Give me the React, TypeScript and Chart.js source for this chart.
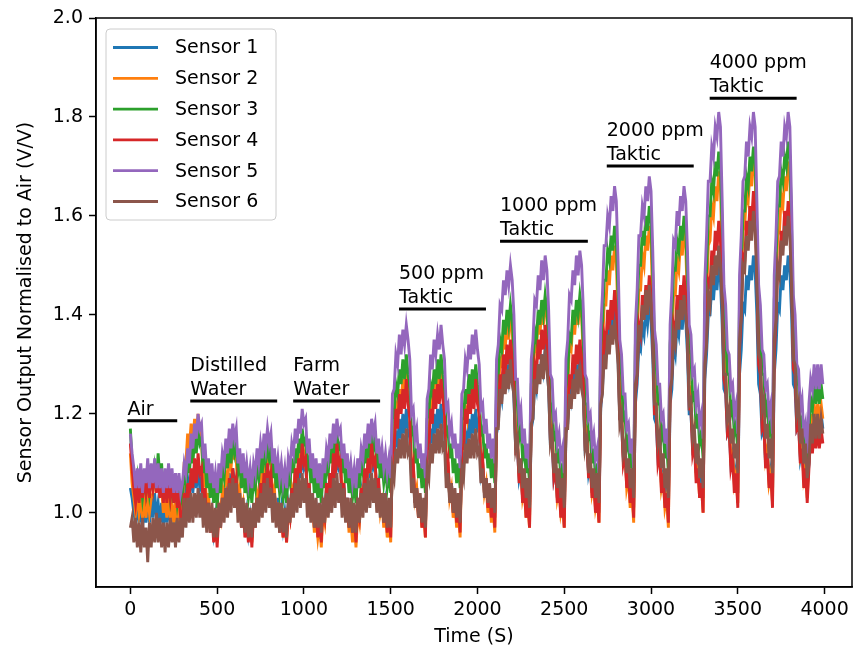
import React, { useEffect, useRef } from "react";
import { Chart, registerables } from "chart.js";

Chart.register(...registerables);

const FONT_FAMILY = "'DejaVu Sans', 'Liberation Sans', sans-serif";
const FONT_SIZE = 19;

// Sampling grid of the recording (seconds between samples)
const SAMPLE_STEP_S = 10;

const sensorLabels = ["Sensor 1", "Sensor 2", "Sensor 3", "Sensor 4", "Sensor 5", "Sensor 6"];
const sensorColors = ["#1f77b4", "#ff7f0e", "#2ca02c", "#d62728", "#9467bd", "#8c564b"];

// Normalised sensor output, one value per sample (t = 0, 10, 20 ... 3990 s)
// rows: air (0-300 s), then one 200 s exposure/recovery cycle per row, then the final recovery
const sensor1 = [
  1.05, 1.03, 1.00, 0.98, 1.02, 0.98, 1.02, 0.97, 1.01, 0.98, 1.03, 0.98, 1.03, 0.99, 1.04, 0.99, 1.02, 0.98, 1.02, 0.97, 1.02, 0.98, 1.02, 0.98, 1.01, 0.97, 1.01, 0.97, 1.00, 0.97, 1.00,
  1.05, 1.03, 1.07, 1.04, 1.08, 1.04, 1.09, 1.05, 1.09, 1.05, 1.07, 1.01, 1.03, 0.98, 1.02, 0.97, 1.00, 0.96, 0.99, 0.95,
  1.01, 0.98, 1.03, 1.01, 1.06, 1.03, 1.08, 1.04, 1.09, 1.06, 1.07, 1.01, 1.04, 0.99, 1.02, 0.97, 1.00, 0.96, 0.99, 0.95,
  1.01, 0.98, 1.03, 1.01, 1.06, 1.03, 1.08, 1.04, 1.09, 1.06, 1.08, 1.02, 1.04, 0.99, 1.03, 0.98, 1.01, 0.97, 1.00, 0.96,
  1.02, 1.00, 1.05, 1.03, 1.08, 1.05, 1.10, 1.07, 1.12, 1.09, 1.10, 1.03, 1.06, 1.00, 1.03, 0.98, 1.02, 0.97, 1.01, 0.96,
  1.02, 1.00, 1.05, 1.03, 1.08, 1.05, 1.10, 1.07, 1.12, 1.09, 1.10, 1.03, 1.06, 1.00, 1.03, 0.98, 1.02, 0.97, 1.01, 0.96,
  1.02, 1.00, 1.05, 1.03, 1.08, 1.05, 1.10, 1.07, 1.12, 1.09, 1.10, 1.04, 1.06, 1.01, 1.04, 0.99, 1.02, 0.98, 1.02, 0.97,
  1.10, 1.10, 1.16, 1.14, 1.19, 1.15, 1.20, 1.16, 1.21, 1.17, 1.15, 1.07, 1.08, 1.02, 1.05, 1.00, 1.03, 0.98, 1.02, 0.97,
  1.11, 1.11, 1.17, 1.14, 1.20, 1.16, 1.21, 1.17, 1.22, 1.18, 1.16, 1.08, 1.09, 1.03, 1.06, 1.01, 1.04, 0.99, 1.03, 0.98,
  1.11, 1.10, 1.16, 1.14, 1.19, 1.15, 1.20, 1.16, 1.21, 1.17, 1.16, 1.08, 1.10, 1.04, 1.07, 1.02, 1.05, 1.00, 1.04, 0.99,
  1.16, 1.18, 1.25, 1.23, 1.29, 1.25, 1.30, 1.27, 1.31, 1.28, 1.23, 1.13, 1.13, 1.07, 1.09, 1.03, 1.06, 1.01, 1.04, 0.99,
  1.17, 1.19, 1.27, 1.25, 1.30, 1.27, 1.32, 1.29, 1.33, 1.30, 1.25, 1.14, 1.14, 1.07, 1.09, 1.03, 1.06, 1.01, 1.04, 0.99,
  1.16, 1.18, 1.25, 1.23, 1.29, 1.25, 1.30, 1.27, 1.31, 1.28, 1.24, 1.13, 1.14, 1.08, 1.10, 1.04, 1.07, 1.02, 1.05, 1.00,
  1.21, 1.25, 1.33, 1.32, 1.37, 1.35, 1.40, 1.37, 1.41, 1.38, 1.31, 1.19, 1.18, 1.11, 1.12, 1.06, 1.09, 1.03, 1.06, 1.01,
  1.22, 1.26, 1.34, 1.33, 1.38, 1.36, 1.41, 1.38, 1.42, 1.39, 1.31, 1.19, 1.18, 1.11, 1.12, 1.06, 1.08, 1.02, 1.05, 1.00,
  1.22, 1.25, 1.34, 1.32, 1.38, 1.36, 1.41, 1.37, 1.42, 1.39, 1.32, 1.20, 1.20, 1.13, 1.14, 1.08, 1.11, 1.05, 1.08, 1.03,
  1.27, 1.32, 1.40, 1.40, 1.46, 1.43, 1.48, 1.45, 1.50, 1.47, 1.38, 1.25, 1.24, 1.16, 1.17, 1.10, 1.12, 1.07, 1.09, 1.04,
  1.28, 1.33, 1.42, 1.41, 1.48, 1.45, 1.50, 1.47, 1.52, 1.49, 1.40, 1.26, 1.24, 1.16, 1.17, 1.10, 1.13, 1.07, 1.09, 1.04,
  1.28, 1.33, 1.42, 1.41, 1.48, 1.45, 1.50, 1.47, 1.52, 1.49, 1.40, 1.26, 1.25, 1.17, 1.18, 1.11, 1.13, 1.08, 1.10, 1.05,
  1.10, 1.18, 1.15, 1.20, 1.16, 1.20, 1.16, 1.20, 1.17,
];

const sensor2 = [
  1.12, 1.06, 1.03, 1.00, 1.04, 1.00, 1.03, 0.99, 1.02, 0.99, 1.04, 1.00, 1.03, 1.04, 1.08, 1.06, 1.09, 1.04, 1.05, 1.00, 1.03, 0.99, 1.03, 0.99, 1.02, 0.98, 1.02, 0.98, 1.01, 0.98, 1.00,
  1.10, 1.10, 1.16, 1.13, 1.18, 1.14, 1.19, 1.15, 1.20, 1.16, 1.15, 1.06, 1.08, 1.01, 1.04, 0.98, 1.01, 0.96, 0.99, 0.94,
  1.01, 0.99, 1.05, 1.03, 1.08, 1.06, 1.11, 1.09, 1.14, 1.11, 1.11, 1.03, 1.05, 1.00, 1.02, 0.97, 1.00, 0.95, 0.99, 0.94,
  1.00, 0.99, 1.04, 1.02, 1.08, 1.05, 1.10, 1.08, 1.13, 1.10, 1.10, 1.03, 1.05, 0.99, 1.02, 0.97, 1.00, 0.95, 0.99, 0.94,
  1.01, 0.99, 1.05, 1.03, 1.09, 1.06, 1.12, 1.09, 1.15, 1.12, 1.11, 1.04, 1.05, 0.99, 1.02, 0.96, 0.99, 0.95, 0.98, 0.93,
  1.00, 0.98, 1.04, 1.02, 1.08, 1.05, 1.11, 1.08, 1.14, 1.11, 1.11, 1.03, 1.05, 0.99, 1.02, 0.96, 0.99, 0.94, 0.98, 0.93,
  1.00, 0.98, 1.04, 1.02, 1.08, 1.05, 1.11, 1.08, 1.14, 1.11, 1.11, 1.03, 1.05, 1.00, 1.02, 0.97, 1.00, 0.95, 0.99, 0.94,
  1.12, 1.14, 1.22, 1.20, 1.25, 1.22, 1.27, 1.24, 1.28, 1.25, 1.20, 1.09, 1.10, 1.03, 1.05, 0.99, 1.02, 0.97, 1.00, 0.95,
  1.13, 1.15, 1.23, 1.21, 1.26, 1.23, 1.28, 1.25, 1.29, 1.26, 1.21, 1.10, 1.10, 1.03, 1.05, 0.99, 1.02, 0.97, 1.00, 0.95,
  1.12, 1.14, 1.21, 1.19, 1.25, 1.21, 1.26, 1.23, 1.27, 1.24, 1.20, 1.09, 1.10, 1.04, 1.06, 1.00, 1.03, 0.98, 1.01, 0.96,
  1.19, 1.23, 1.31, 1.30, 1.36, 1.33, 1.39, 1.35, 1.40, 1.37, 1.29, 1.16, 1.15, 1.08, 1.09, 1.03, 1.05, 0.99, 1.02, 0.97,
  1.20, 1.25, 1.34, 1.33, 1.39, 1.36, 1.41, 1.38, 1.43, 1.40, 1.31, 1.18, 1.17, 1.09, 1.10, 1.03, 1.05, 1.00, 1.02, 0.97,
  1.20, 1.25, 1.34, 1.33, 1.39, 1.36, 1.41, 1.38, 1.43, 1.40, 1.31, 1.18, 1.17, 1.09, 1.10, 1.04, 1.06, 1.01, 1.03, 0.98,
  1.26, 1.33, 1.42, 1.42, 1.49, 1.46, 1.52, 1.49, 1.54, 1.51, 1.39, 1.23, 1.21, 1.12, 1.13, 1.05, 1.07, 1.01, 1.04, 0.98,
  1.28, 1.35, 1.45, 1.45, 1.52, 1.50, 1.56, 1.53, 1.58, 1.55, 1.42, 1.25, 1.22, 1.13, 1.13, 1.05, 1.07, 1.01, 1.03, 0.97,
  1.27, 1.34, 1.44, 1.44, 1.51, 1.49, 1.55, 1.52, 1.57, 1.54, 1.42, 1.26, 1.23, 1.15, 1.15, 1.08, 1.09, 1.03, 1.06, 1.00,
  1.34, 1.43, 1.54, 1.55, 1.62, 1.60, 1.66, 1.63, 1.69, 1.66, 1.51, 1.33, 1.29, 1.19, 1.19, 1.11, 1.12, 1.06, 1.08, 1.02,
  1.36, 1.46, 1.57, 1.58, 1.65, 1.63, 1.69, 1.66, 1.72, 1.69, 1.53, 1.34, 1.30, 1.20, 1.19, 1.11, 1.13, 1.06, 1.08, 1.02,
  1.36, 1.45, 1.56, 1.57, 1.64, 1.62, 1.68, 1.65, 1.71, 1.68, 1.53, 1.34, 1.30, 1.21, 1.20, 1.12, 1.14, 1.07, 1.09, 1.03,
  1.12, 1.20, 1.17, 1.22, 1.18, 1.22, 1.18, 1.22, 1.19,
];

const sensor3 = [
  1.17, 1.10, 1.07, 1.04, 1.07, 1.03, 1.07, 1.03, 1.06, 1.04, 1.08, 1.04, 1.07, 1.05, 1.09, 1.06, 1.12, 1.07, 1.10, 1.03, 1.07, 1.03, 1.07, 1.03, 1.06, 1.02, 1.06, 1.02, 1.05, 1.02, 1.04,
  1.08, 1.06, 1.11, 1.08, 1.13, 1.10, 1.15, 1.12, 1.17, 1.14, 1.15, 1.08, 1.11, 1.05, 1.08, 1.03, 1.07, 1.02, 1.06, 1.01,
  1.07, 1.04, 1.09, 1.07, 1.12, 1.09, 1.14, 1.10, 1.15, 1.12, 1.14, 1.08, 1.10, 1.05, 1.09, 1.04, 1.07, 1.03, 1.06, 1.02,
  1.07, 1.05, 1.10, 1.07, 1.11, 1.08, 1.13, 1.10, 1.14, 1.11, 1.13, 1.07, 1.10, 1.05, 1.08, 1.04, 1.07, 1.03, 1.06, 1.02,
  1.08, 1.06, 1.11, 1.08, 1.13, 1.10, 1.15, 1.12, 1.17, 1.14, 1.15, 1.09, 1.11, 1.06, 1.09, 1.04, 1.07, 1.03, 1.07, 1.02,
  1.08, 1.05, 1.10, 1.08, 1.13, 1.10, 1.15, 1.11, 1.16, 1.13, 1.14, 1.08, 1.11, 1.06, 1.09, 1.04, 1.07, 1.03, 1.06, 1.02,
  1.08, 1.05, 1.10, 1.08, 1.13, 1.10, 1.15, 1.11, 1.16, 1.13, 1.15, 1.09, 1.12, 1.07, 1.10, 1.06, 1.09, 1.05, 1.08, 1.04,
  1.19, 1.20, 1.26, 1.24, 1.29, 1.26, 1.31, 1.27, 1.32, 1.28, 1.25, 1.16, 1.17, 1.10, 1.13, 1.07, 1.10, 1.05, 1.09, 1.04,
  1.19, 1.20, 1.26, 1.24, 1.29, 1.26, 1.31, 1.27, 1.32, 1.28, 1.25, 1.16, 1.17, 1.11, 1.14, 1.08, 1.11, 1.06, 1.10, 1.05,
  1.19, 1.19, 1.25, 1.22, 1.28, 1.24, 1.29, 1.25, 1.30, 1.26, 1.24, 1.16, 1.17, 1.11, 1.14, 1.09, 1.12, 1.07, 1.11, 1.06,
  1.25, 1.28, 1.35, 1.33, 1.39, 1.36, 1.41, 1.38, 1.42, 1.39, 1.33, 1.22, 1.22, 1.15, 1.17, 1.11, 1.13, 1.08, 1.11, 1.06,
  1.26, 1.29, 1.37, 1.35, 1.41, 1.38, 1.43, 1.40, 1.44, 1.41, 1.34, 1.22, 1.22, 1.15, 1.16, 1.10, 1.13, 1.07, 1.10, 1.05,
  1.25, 1.28, 1.36, 1.35, 1.41, 1.38, 1.43, 1.40, 1.44, 1.41, 1.34, 1.22, 1.22, 1.15, 1.16, 1.10, 1.13, 1.07, 1.10, 1.05,
  1.32, 1.38, 1.47, 1.47, 1.53, 1.51, 1.56, 1.53, 1.58, 1.55, 1.44, 1.30, 1.28, 1.19, 1.20, 1.13, 1.15, 1.09, 1.12, 1.06,
  1.34, 1.41, 1.50, 1.50, 1.57, 1.54, 1.60, 1.57, 1.62, 1.59, 1.48, 1.33, 1.30, 1.22, 1.22, 1.15, 1.17, 1.11, 1.14, 1.08,
  1.34, 1.40, 1.49, 1.49, 1.55, 1.53, 1.58, 1.55, 1.60, 1.57, 1.47, 1.33, 1.32, 1.23, 1.24, 1.17, 1.20, 1.14, 1.16, 1.11,
  1.42, 1.49, 1.60, 1.60, 1.67, 1.65, 1.71, 1.68, 1.73, 1.70, 1.57, 1.40, 1.37, 1.28, 1.28, 1.20, 1.22, 1.16, 1.18, 1.12,
  1.43, 1.50, 1.61, 1.61, 1.68, 1.66, 1.72, 1.69, 1.74, 1.71, 1.57, 1.40, 1.37, 1.28, 1.28, 1.20, 1.22, 1.16, 1.18, 1.12,
  1.43, 1.51, 1.62, 1.62, 1.69, 1.67, 1.72, 1.70, 1.75, 1.72, 1.57, 1.39, 1.36, 1.26, 1.26, 1.18, 1.19, 1.13, 1.15, 1.09,
  1.16, 1.23, 1.21, 1.26, 1.22, 1.26, 1.22, 1.26, 1.23,
];

const sensor4 = [
  1.14, 1.09, 1.05, 1.02, 1.06, 1.02, 1.07, 1.03, 1.08, 1.04, 1.07, 1.03, 1.08, 1.05, 1.09, 1.04, 1.08, 1.03, 1.07, 1.02, 1.07, 1.02, 1.06, 1.03, 1.07, 1.02, 1.06, 1.01, 1.04, 0.99, 0.98,
  1.04, 1.00, 1.06, 1.03, 1.09, 1.05, 1.11, 1.06, 1.12, 1.08, 1.09, 1.01, 1.05, 0.98, 1.02, 0.96, 1.00, 0.94, 0.99, 0.93,
  1.00, 0.97, 1.03, 0.99, 1.05, 1.01, 1.07, 1.03, 1.09, 1.05, 1.07, 1.00, 1.03, 0.97, 1.01, 0.95, 0.99, 0.94, 0.99, 0.93,
  1.00, 0.97, 1.03, 1.00, 1.06, 1.02, 1.08, 1.04, 1.10, 1.06, 1.08, 1.01, 1.04, 0.98, 1.02, 0.96, 1.00, 0.95, 1.00, 0.94,
  1.01, 0.99, 1.05, 1.02, 1.09, 1.05, 1.11, 1.08, 1.14, 1.10, 1.11, 1.03, 1.06, 0.99, 1.03, 0.97, 1.01, 0.95, 1.00, 0.94,
  1.01, 0.99, 1.06, 1.02, 1.08, 1.05, 1.12, 1.07, 1.14, 1.10, 1.11, 1.02, 1.06, 0.99, 1.03, 0.97, 1.01, 0.96, 0.99, 0.94,
  1.01, 0.99, 1.05, 1.02, 1.09, 1.05, 1.11, 1.08, 1.14, 1.10, 1.11, 1.03, 1.07, 1.00, 1.04, 0.98, 1.02, 0.96, 1.01, 0.95,
  1.12, 1.13, 1.21, 1.17, 1.24, 1.20, 1.25, 1.21, 1.27, 1.22, 1.19, 1.08, 1.10, 1.02, 1.05, 0.99, 1.03, 0.97, 1.01, 0.95,
  1.13, 1.13, 1.21, 1.18, 1.25, 1.21, 1.26, 1.22, 1.27, 1.23, 1.20, 1.09, 1.11, 1.03, 1.06, 1.00, 1.04, 0.98, 1.02, 0.96,
  1.13, 1.13, 1.21, 1.18, 1.24, 1.20, 1.25, 1.21, 1.27, 1.22, 1.20, 1.09, 1.11, 1.04, 1.07, 1.01, 1.05, 0.99, 1.03, 0.97,
  1.17, 1.19, 1.28, 1.25, 1.32, 1.28, 1.34, 1.30, 1.35, 1.31, 1.26, 1.13, 1.14, 1.06, 1.09, 1.02, 1.05, 0.99, 1.03, 0.97,
  1.19, 1.21, 1.30, 1.28, 1.35, 1.31, 1.37, 1.33, 1.38, 1.34, 1.28, 1.15, 1.15, 1.07, 1.09, 1.02, 1.06, 0.99, 1.03, 0.97,
  1.17, 1.19, 1.28, 1.25, 1.32, 1.28, 1.34, 1.30, 1.35, 1.31, 1.26, 1.14, 1.15, 1.07, 1.10, 1.03, 1.06, 1.00, 1.04, 0.98,
  1.22, 1.26, 1.36, 1.34, 1.41, 1.37, 1.43, 1.39, 1.45, 1.41, 1.33, 1.19, 1.19, 1.10, 1.12, 1.05, 1.08, 1.02, 1.05, 0.99,
  1.24, 1.28, 1.38, 1.36, 1.44, 1.40, 1.46, 1.42, 1.48, 1.44, 1.35, 1.20, 1.20, 1.10, 1.12, 1.04, 1.08, 1.01, 1.04, 0.98,
  1.24, 1.28, 1.38, 1.36, 1.44, 1.40, 1.46, 1.42, 1.48, 1.44, 1.36, 1.21, 1.21, 1.12, 1.14, 1.06, 1.09, 1.03, 1.06, 1.00,
  1.30, 1.36, 1.47, 1.46, 1.53, 1.50, 1.57, 1.53, 1.59, 1.55, 1.44, 1.27, 1.25, 1.16, 1.17, 1.09, 1.11, 1.04, 1.08, 1.01,
  1.33, 1.40, 1.52, 1.51, 1.59, 1.56, 1.62, 1.59, 1.65, 1.61, 1.48, 1.30, 1.28, 1.17, 1.18, 1.09, 1.12, 1.05, 1.08, 1.01,
  1.32, 1.39, 1.50, 1.49, 1.57, 1.54, 1.61, 1.57, 1.63, 1.59, 1.47, 1.29, 1.28, 1.17, 1.18, 1.10, 1.13, 1.05, 1.09, 1.02,
  1.09, 1.16, 1.12, 1.17, 1.13, 1.17, 1.13, 1.17, 1.14,
];

const sensor5 = [
  1.16, 1.12, 1.09, 1.05, 1.09, 1.05, 1.10, 1.04, 1.09, 1.06, 1.11, 1.05, 1.10, 1.06, 1.11, 1.05, 1.10, 1.05, 1.09, 1.04, 1.09, 1.05, 1.10, 1.05, 1.09, 1.04, 1.08, 1.04, 1.08, 1.04, 1.06,
  1.10, 1.08, 1.13, 1.10, 1.16, 1.13, 1.18, 1.15, 1.20, 1.17, 1.18, 1.11, 1.14, 1.08, 1.11, 1.06, 1.10, 1.05, 1.08, 1.04,
  1.10, 1.07, 1.12, 1.10, 1.15, 1.12, 1.17, 1.13, 1.18, 1.15, 1.17, 1.10, 1.13, 1.08, 1.12, 1.07, 1.10, 1.06, 1.09, 1.05,
  1.10, 1.08, 1.13, 1.10, 1.14, 1.11, 1.16, 1.13, 1.17, 1.14, 1.16, 1.10, 1.13, 1.08, 1.11, 1.07, 1.10, 1.06, 1.09, 1.05,
  1.11, 1.09, 1.14, 1.12, 1.17, 1.14, 1.19, 1.16, 1.21, 1.18, 1.19, 1.12, 1.15, 1.09, 1.12, 1.07, 1.11, 1.06, 1.10, 1.05,
  1.11, 1.08, 1.13, 1.11, 1.16, 1.13, 1.18, 1.14, 1.19, 1.16, 1.17, 1.11, 1.14, 1.09, 1.12, 1.07, 1.10, 1.06, 1.09, 1.05,
  1.11, 1.08, 1.13, 1.11, 1.16, 1.13, 1.18, 1.14, 1.19, 1.16, 1.18, 1.12, 1.15, 1.10, 1.13, 1.09, 1.12, 1.08, 1.11, 1.07,
  1.24, 1.25, 1.32, 1.30, 1.36, 1.32, 1.37, 1.34, 1.38, 1.35, 1.31, 1.20, 1.21, 1.15, 1.17, 1.11, 1.14, 1.09, 1.12, 1.07,
  1.23, 1.25, 1.32, 1.29, 1.35, 1.32, 1.36, 1.33, 1.38, 1.34, 1.31, 1.21, 1.22, 1.16, 1.18, 1.13, 1.16, 1.11, 1.14, 1.09,
  1.24, 1.25, 1.31, 1.29, 1.34, 1.31, 1.36, 1.32, 1.37, 1.33, 1.30, 1.21, 1.22, 1.16, 1.19, 1.13, 1.16, 1.11, 1.15, 1.10,
  1.31, 1.34, 1.42, 1.41, 1.47, 1.44, 1.49, 1.46, 1.50, 1.47, 1.40, 1.27, 1.27, 1.19, 1.21, 1.14, 1.17, 1.11, 1.14, 1.09,
  1.31, 1.35, 1.43, 1.42, 1.48, 1.45, 1.51, 1.47, 1.52, 1.49, 1.41, 1.28, 1.27, 1.19, 1.20, 1.14, 1.16, 1.11, 1.13, 1.08,
  1.31, 1.35, 1.44, 1.43, 1.49, 1.46, 1.52, 1.48, 1.53, 1.50, 1.41, 1.28, 1.27, 1.19, 1.20, 1.14, 1.16, 1.11, 1.13, 1.08,
  1.37, 1.44, 1.54, 1.54, 1.60, 1.58, 1.64, 1.61, 1.66, 1.63, 1.51, 1.35, 1.32, 1.24, 1.24, 1.17, 1.18, 1.12, 1.15, 1.09,
  1.38, 1.45, 1.56, 1.56, 1.62, 1.60, 1.66, 1.63, 1.68, 1.65, 1.53, 1.37, 1.34, 1.26, 1.26, 1.19, 1.20, 1.14, 1.17, 1.11,
  1.38, 1.45, 1.55, 1.54, 1.61, 1.58, 1.64, 1.61, 1.66, 1.63, 1.53, 1.38, 1.36, 1.28, 1.29, 1.22, 1.24, 1.18, 1.20, 1.15,
  1.47, 1.56, 1.67, 1.67, 1.74, 1.72, 1.78, 1.76, 1.81, 1.78, 1.63, 1.46, 1.42, 1.33, 1.32, 1.25, 1.26, 1.20, 1.22, 1.16,
  1.48, 1.56, 1.67, 1.68, 1.75, 1.72, 1.78, 1.76, 1.81, 1.78, 1.63, 1.46, 1.42, 1.33, 1.32, 1.25, 1.26, 1.20, 1.22, 1.16,
  1.48, 1.56, 1.67, 1.68, 1.75, 1.72, 1.78, 1.76, 1.81, 1.78, 1.62, 1.44, 1.40, 1.30, 1.29, 1.21, 1.23, 1.16, 1.18, 1.12,
  1.22, 1.27, 1.25, 1.30, 1.25, 1.30, 1.25, 1.30, 1.26,
];

const sensor6 = [
  0.97, 0.99, 0.94, 0.99, 0.93, 0.98, 0.92, 0.99, 0.93, 0.97, 0.90, 0.98, 0.93, 0.99, 0.94, 1.00, 0.94, 0.99, 0.93, 0.98, 0.92, 0.98, 0.93, 0.99, 0.94, 0.98, 0.93, 0.99, 0.94, 0.99, 0.95,
  1.03, 0.97, 1.03, 0.98, 1.04, 0.98, 1.04, 0.99, 1.05, 0.99, 1.04, 0.97, 1.03, 0.96, 1.02, 0.96, 1.02, 0.95, 1.01, 0.95,
  1.02, 0.97, 1.03, 0.98, 1.05, 0.99, 1.06, 1.00, 1.07, 1.01, 1.06, 0.98, 1.04, 0.97, 1.03, 0.96, 1.02, 0.95, 1.01, 0.95,
  1.02, 0.97, 1.03, 0.98, 1.04, 0.99, 1.06, 1.00, 1.07, 1.01, 1.05, 0.98, 1.04, 0.97, 1.02, 0.96, 1.02, 0.96, 1.01, 0.95,
  1.03, 0.98, 1.04, 0.99, 1.06, 1.00, 1.07, 1.01, 1.08, 1.02, 1.07, 0.99, 1.05, 0.98, 1.04, 0.97, 1.03, 0.97, 1.02, 0.96,
  1.03, 0.98, 1.04, 0.99, 1.05, 1.00, 1.07, 1.01, 1.08, 1.02, 1.06, 0.99, 1.05, 0.98, 1.03, 0.97, 1.03, 0.96, 1.02, 0.96,
  1.03, 0.98, 1.04, 0.99, 1.06, 1.00, 1.07, 1.01, 1.08, 1.02, 1.07, 1.00, 1.05, 0.99, 1.04, 0.98, 1.04, 0.97, 1.03, 0.97,
  1.09, 1.07, 1.13, 1.10, 1.15, 1.11, 1.16, 1.11, 1.17, 1.12, 1.13, 1.04, 1.07, 1.01, 1.05, 0.99, 1.04, 0.98, 1.03, 0.97,
  1.09, 1.07, 1.14, 1.10, 1.16, 1.12, 1.17, 1.12, 1.18, 1.13, 1.14, 1.05, 1.08, 1.02, 1.06, 1.00, 1.05, 0.99, 1.04, 0.98,
  1.09, 1.07, 1.14, 1.10, 1.15, 1.11, 1.16, 1.11, 1.17, 1.12, 1.13, 1.06, 1.09, 1.03, 1.07, 1.02, 1.06, 1.01, 1.05, 1.00,
  1.17, 1.17, 1.25, 1.22, 1.28, 1.24, 1.29, 1.25, 1.31, 1.26, 1.24, 1.13, 1.15, 1.08, 1.11, 1.05, 1.09, 1.03, 1.07, 1.01,
  1.18, 1.19, 1.27, 1.24, 1.30, 1.26, 1.32, 1.27, 1.33, 1.29, 1.25, 1.14, 1.16, 1.08, 1.12, 1.05, 1.09, 1.03, 1.07, 1.01,
  1.17, 1.17, 1.24, 1.21, 1.27, 1.23, 1.29, 1.24, 1.30, 1.25, 1.23, 1.13, 1.15, 1.08, 1.12, 1.05, 1.09, 1.03, 1.08, 1.02,
  1.22, 1.24, 1.32, 1.29, 1.36, 1.32, 1.38, 1.34, 1.39, 1.35, 1.30, 1.18, 1.20, 1.12, 1.14, 1.08, 1.11, 1.05, 1.09, 1.03,
  1.26, 1.28, 1.38, 1.35, 1.42, 1.39, 1.45, 1.40, 1.46, 1.42, 1.35, 1.22, 1.22, 1.14, 1.16, 1.09, 1.12, 1.05, 1.09, 1.03,
  1.25, 1.27, 1.36, 1.34, 1.41, 1.37, 1.43, 1.39, 1.44, 1.40, 1.35, 1.22, 1.23, 1.15, 1.17, 1.10, 1.14, 1.07, 1.11, 1.05,
  1.30, 1.34, 1.44, 1.42, 1.50, 1.46, 1.52, 1.48, 1.54, 1.50, 1.42, 1.28, 1.28, 1.19, 1.21, 1.14, 1.17, 1.11, 1.14, 1.08,
  1.35, 1.40, 1.50, 1.49, 1.56, 1.53, 1.59, 1.55, 1.61, 1.57, 1.47, 1.32, 1.31, 1.21, 1.23, 1.15, 1.18, 1.11, 1.15, 1.08,
  1.35, 1.39, 1.50, 1.48, 1.55, 1.52, 1.58, 1.54, 1.60, 1.56, 1.46, 1.31, 1.30, 1.20, 1.22, 1.14, 1.17, 1.10, 1.14, 1.07,
  1.10, 1.18, 1.14, 1.20, 1.15, 1.20, 1.15, 1.19, 1.16,
];

const sensorSeries = [sensor1, sensor2, sensor3, sensor4, sensor5, sensor6];

const xTickValues = [0, 500, 1000, 1500, 2000, 2500, 3000, 3500, 4000];
const yTickValues = [1.0, 1.2, 1.4, 1.6, 1.8, 2.0];
const X_MIN = -198;
const X_MAX = 4158;
const Y_MIN = 0.85;
const Y_MAX = 2.0;

// Condition annotations (text lines, bar start/end in seconds, bar level in V/V)
const annotationLine1 = ["Air", "Distilled", "Farm", "500 ppm", "1000 ppm", "2000 ppm", "4000 ppm"];
const annotationLine2 = ["", "Water", "Water", "Taktic", "Taktic", "Taktic", "Taktic"];
const annotationStart = [-17, 345, 938, 1548, 2130, 2745, 3338];
const annotationEnd = [270, 846, 1439, 2049, 2636, 3246, 3839];
const annotationLevel = [1.186, 1.226, 1.226, 1.412, 1.549, 1.701, 1.838];

const fontStr = `${FONT_SIZE}px ${FONT_FAMILY}`;

const overlayPlugin = {
  id: "overlay",
  afterDatasetsDraw(chart: any) {
    const { ctx, chartArea, scales } = chart;
    const xs = scales.x;
    const ys = scales.y;
    ctx.save();

    // annotation bars and labels
    ctx.fillStyle = "#000";
    ctx.strokeStyle = "#000";
    ctx.font = fontStr;
    ctx.textAlign = "left";
    ctx.textBaseline = "alphabetic";
    for (let i = 0; i < annotationLine1.length; i++) {
      const x0 = xs.getPixelForValue(annotationStart[i]);
      const x1 = xs.getPixelForValue(annotationEnd[i]);
      const py = ys.getPixelForValue(annotationLevel[i]);
      ctx.lineWidth = 3;
      ctx.beginPath();
      ctx.moveTo(x0, py);
      ctx.lineTo(x1, py);
      ctx.stroke();
      if (annotationLine2[i]) {
        ctx.fillText(annotationLine1[i], x0, py - 30);
        ctx.fillText(annotationLine2[i], x0, py - 6);
      } else {
        ctx.fillText(annotationLine1[i], x0, py - 6);
      }
    }

    // spines
    ctx.lineWidth = 1.5;
    ctx.strokeStyle = "#000";
    ctx.strokeRect(chartArea.left, chartArea.top, chartArea.right - chartArea.left, chartArea.bottom - chartArea.top);

    // legend (matplotlib style, upper left)
    const lx = chartArea.left + 10;
    const ly = chartArea.top + 11;
    const lw = 170;
    const lh = 191;
    const r = 4;
    ctx.beginPath();
    ctx.moveTo(lx + r, ly);
    ctx.lineTo(lx + lw - r, ly);
    ctx.arcTo(lx + lw, ly, lx + lw, ly + r, r);
    ctx.lineTo(lx + lw, ly + lh - r);
    ctx.arcTo(lx + lw, ly + lh, lx + lw - r, ly + lh, r);
    ctx.lineTo(lx + r, ly + lh);
    ctx.arcTo(lx, ly + lh, lx, ly + lh - r, r);
    ctx.lineTo(lx, ly + r);
    ctx.arcTo(lx, ly, lx + r, ly, r);
    ctx.closePath();
    ctx.fillStyle = "rgba(255,255,255,0.8)";
    ctx.fill();
    ctx.lineWidth = 1;
    ctx.strokeStyle = "#cccccc";
    ctx.stroke();

    ctx.font = fontStr;
    ctx.textBaseline = "middle";
    chart.data.datasets.forEach((ds: any, i: number) => {
      const rowY = ly + 18.5 + i * 30.8;
      ctx.strokeStyle = ds.borderColor;
      ctx.lineWidth = 2.8;
      ctx.beginPath();
      ctx.moveTo(lx + 7, rowY);
      ctx.lineTo(lx + 52, rowY);
      ctx.stroke();
      ctx.fillStyle = "#000";
      ctx.fillText(ds.label, lx + 69, rowY + 1);
    });

    ctx.restore();
  },
};

export default function App() {
  const canvasRef = useRef<HTMLCanvasElement | null>(null);

  useEffect(() => {
    const canvas = canvasRef.current;
    if (!canvas) return;

    const datasets = sensorSeries.map((series, idx) => ({
      label: sensorLabels[idx],
      data: series.map((v, i) => ({ x: i * SAMPLE_STEP_S, y: v })),
      borderColor: sensorColors[idx],
      backgroundColor: sensorColors[idx],
      borderWidth: 2.9,
      pointRadius: 0,
      tension: 0,
      fill: false,
      order: sensorSeries.length - 1 - idx,
    }));

    const chart = new Chart(canvas, {
      type: "line",
      data: { datasets },
      options: {
        animation: false,
        responsive: false,
        devicePixelRatio: 1,
        layout: { padding: { left: 0, top: 18, right: 3, bottom: 0 } },
        plugins: {
          legend: { display: false },
          tooltip: { enabled: false },
        },
        scales: {
          x: {
            type: "linear",
            min: X_MIN,
            max: X_MAX,
            afterBuildTicks: (scale: any) => {
              scale.ticks = xTickValues.map((v) => ({ value: v }));
            },
            afterFit: (scale: any) => {
              scale.height = 66;
            },
            ticks: {
              autoSkip: false,
              maxRotation: 0,
              padding: 5,
              color: "#000",
              font: { family: FONT_FAMILY, size: FONT_SIZE },
              callback: (v: any) => String(v),
            },
            grid: {
              drawOnChartArea: false,
              drawTicks: true,
              tickLength: 7,
              tickWidth: 1.5,
              tickColor: "#000",
              color: "#000",
            },
            border: { display: true, color: "#000", width: 1.5 },
            title: {
              display: true,
              text: "Time (S)",
              color: "#000",
              font: { family: FONT_FAMILY, size: FONT_SIZE },
              padding: { top: 0, bottom: 5 },
            },
          },
          y: {
            type: "linear",
            min: Y_MIN,
            max: Y_MAX,
            afterBuildTicks: (scale: any) => {
              scale.ticks = yTickValues.map((v) => ({ value: v }));
            },
            afterFit: (scale: any) => {
              scale.width = 96;
            },
            ticks: {
              autoSkip: false,
              padding: 6,
              color: "#000",
              font: { family: FONT_FAMILY, size: FONT_SIZE },
              callback: (v: any) => Number(v).toFixed(1),
            },
            grid: {
              drawOnChartArea: false,
              drawTicks: true,
              tickLength: 7,
              tickWidth: 1.5,
              tickColor: "#000",
              color: "#000",
            },
            border: { display: true, color: "#000", width: 1.5 },
            title: {
              display: true,
              text: "Sensor Output Normalised to Air (V/V)",
              color: "#000",
              font: { family: FONT_FAMILY, size: FONT_SIZE },
              padding: { top: 15, bottom: 0 },
            },
          },
        },
      },
      plugins: [overlayPlugin],
    } as any);

    return () => chart.destroy();
  }, []);

  return (
    <div style={{ position: "fixed", left: 0, top: 0, width: 855, height: 653, background: "#fff" }}>
      <canvas ref={canvasRef} width={855} height={653} style={{ display: "block", width: 855, height: 653 }} />
    </div>
  );
}
